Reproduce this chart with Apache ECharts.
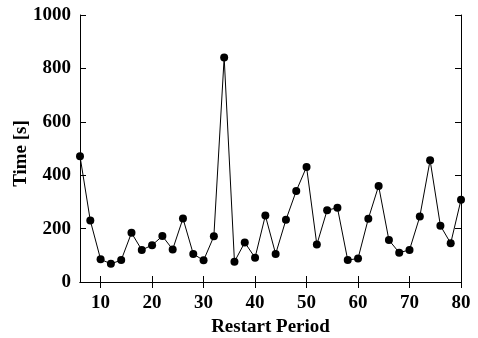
<!DOCTYPE html>
<html><head><meta charset="utf-8">
<script src="https://cdn.jsdelivr.net/npm/echarts@6/dist/echarts.min.js"></script>
<style>html,body{margin:0;padding:0;background:#fff}#c{width:478px;height:338px}</style>
</head><body><div id="c"></div>
<script>
var restartPeriod = [6,8,10,12,14,16,18,20,22,24,26,28,30,32,34,36,38,40,42,44,46,48,50,52,54,56,58,60,62,64,66,68,70,72,74,76,78,80];
var timeSec = [471,230,85,68,82,184,120,138,172,122,238,105,81,171,841,76,148,91,249,105,233,341,431,140,269,278,82,88,237,360,157,110,120,245,456,211,145,308];
var xTicks = [10,20,30,40,50,60,70,80];
var yTicks = [0,200,400,600,800,1000];

var font = '"Liberation Serif","Times New Roman",serif';
var chart = echarts.init(document.getElementById('c'), null, {renderer:'canvas'});
var data = restartPeriod.map(function(x,i){return [x,timeSec[i]];});
var axLine = {show:true, lineStyle:{color:'#000', width:1}};
function tickX(){return {show:true, inside:true, length:6, customValues:xTicks, lineStyle:{color:'#000', width:1}};}
function tickY(){return {show:true, inside:true, length:6, customValues:yTicks, lineStyle:{color:'#000', width:1}};}
function fmt(v){return String(v);}
chart.setOption({
  animation:false,
  grid:{left:80, right:17, top:15, bottom:56, containLabel:false, outerBoundsMode:'none'},
  xAxis:[{
    type:'value', min:6, max:80,
    axisLine:axLine, axisTick:tickX(), splitLine:{show:false},
    axisLabel:{show:true, customValues:xTicks, formatter:fmt, color:'#000', fontFamily:font, fontWeight:'bold', fontSize:19, margin:12},
    name:'Restart Period', nameLocation:'middle', nameGap:36, nameMoveOverlap:false,
    nameTextStyle:{color:'#000', fontFamily:font, fontWeight:'bold', fontSize:19}
  },{
    type:'value', position:'top', min:6, max:80,
    axisLine:axLine, axisTick:tickX(), splitLine:{show:false}, axisLabel:{show:false}
  }],
  yAxis:[{
    type:'value', min:0, max:1000, interval:200,
    axisLine:axLine, axisTick:tickY(), splitLine:{show:false},
    axisLabel:{show:true, customValues:yTicks, formatter:fmt, color:'#000', fontFamily:font, fontWeight:'bold', fontSize:19, margin:9},
    name:'Time [s]', nameLocation:'middle', nameGap:49, nameMoveOverlap:false,
    nameTextStyle:{color:'#000', fontFamily:font, fontWeight:'bold', fontSize:19, padding:[0,10,0,0]}
  },{
    type:'value', position:'right', min:0, max:1000, interval:200,
    axisLine:axLine, axisTick:tickY(), splitLine:{show:false}, axisLabel:{show:false}
  }],
  series:[{
    type:'line', data:data, symbol:'circle', symbolSize:8,
    lineStyle:{color:'#000', width:1}, itemStyle:{color:'#000'}
  }]
});
</script></body></html>
